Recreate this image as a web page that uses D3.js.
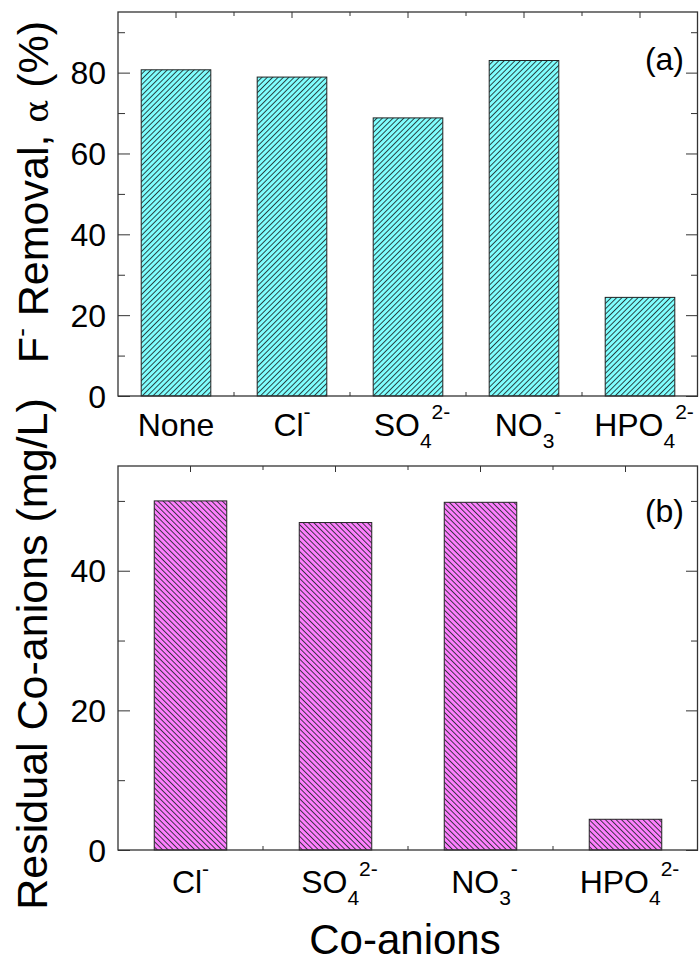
<!DOCTYPE html>
<html>
<head>
<meta charset="utf-8">
<script src="https://cdn.jsdelivr.net/npm/d3@7/dist/d3.min.js"></script>
<style>
  html, body { margin: 0; padding: 0; background: #fff; }
  svg { display: block; font-family: Arial, "Liberation Sans", sans-serif; }
</style>
</head>
<body>
<script>
// ---- data ----
const topCategories = ["None", "Cl", "SO4", "NO3", "HPO4"];
const topValues = [80.7, 78.9, 68.8, 83.0, 24.4];
const topYTicks = [0, 20, 40, 60, 80];
const topYMinor = [10, 30, 50, 70, 90];

const bottomCategories = ["Cl", "SO4", "NO3", "HPO4"];
const bottomValues = [50.0, 46.9, 49.8, 4.4];
const bottomYTicks = [0, 20, 40];
const bottomYMinor = [10, 30, 50];

// label parts: base text, subscript, superscript
const labelParts = {
  "None": { base: "None", sub: "", sup: "" },
  "Cl":   { base: "Cl",   sub: "",  sup: "-" },
  "SO4":  { base: "SO",   sub: "4", sup: "2-" },
  "NO3":  { base: "NO",   sub: "3", sup: "-" },
  "HPO4": { base: "HPO",  sub: "4", sup: "2-" }
};

const W = 699, H = 962;
const svg = d3.select("body").append("svg").attr("width", W).attr("height", H);

const defs = svg.append("defs");
function hatch(id, fill, angle) {
  const s = 3.8;
  const p = defs.append("pattern").attr("id", id)
    .attr("patternUnits", "userSpaceOnUse")
    .attr("width", s).attr("height", s)
    .attr("patternTransform", `rotate(${angle})`);
  p.append("rect").attr("width", s).attr("height", s).attr("fill", fill);
  p.append("line").attr("x1", 0.5).attr("y1", -1).attr("x2", 0.5).attr("y2", s + 1)
    .attr("stroke", "#1a2626").attr("stroke-width", 0.85);
}
hatch("hatchCyan", "#80ffff", 45);
hatch("hatchMag", "#ff80ff", -45);

const frameColor = "#333";
const X0 = 118, X1 = 698;

function drawPanel(cfg) {
  const g = svg.append("g");
  const x = d3.scaleBand().domain(cfg.cats).range([X0, X1])
    .paddingInner(cfg.pad).paddingOuter(cfg.pad / 2);
  const y = d3.scaleLinear().domain(cfg.ydom).range([cfg.yBottom, cfg.yTop]);

  // x ticks (bottom + top), centers and boundaries
  const step = x.step();
  const centers = cfg.cats.map(c => x(c) + x.bandwidth() / 2);
  const bounds = cfg.cats.slice(1).map(c => x(c) - (step - x.bandwidth()) / 2);
  [[centers, 6], [bounds, 4]].forEach(([arr, len]) => {
    arr.forEach(px => {
      g.append("line").attr("x1", px).attr("x2", px)
        .attr("y1", cfg.yBottom).attr("y2", cfg.yBottom - len)
        .attr("stroke", frameColor).attr("stroke-width", 1);
      g.append("line").attr("x1", px).attr("x2", px)
        .attr("y1", cfg.yTop).attr("y2", cfg.yTop + len)
        .attr("stroke", frameColor).attr("stroke-width", 1);
    });
  });

  // bars
  g.selectAll("rect.bar").data(cfg.cats).enter().append("rect")
    .attr("class", "bar")
    .attr("x", d => x(d))
    .attr("width", x.bandwidth())
    .attr("y", (d, i) => y(cfg.vals[i]))
    .attr("height", (d, i) => y(0) - y(cfg.vals[i]))
    .attr("fill", `url(#${cfg.pattern})`)
    .attr("stroke", "#222").attr("stroke-width", 1);

  // left / right y axes using d3 axis (inward ticks)
  function yAxis(gen, xpos, vals, size) {
    const a = g.append("g").attr("transform", `translate(${xpos},0)`)
      .call(gen(y).tickValues(vals).tickSize(size).tickFormat(""));
    a.select(".domain").remove();
    a.selectAll("line").attr("stroke", frameColor).attr("stroke-width", 1);
  }
  yAxis(d3.axisRight, X0, cfg.yticks, 12);
  yAxis(d3.axisRight, X0, cfg.yminor, 7);
  yAxis(d3.axisLeft, X1, cfg.yticks, 12);
  yAxis(d3.axisLeft, X1, cfg.yminor, 7);

  // y tick labels
  g.selectAll("text.ytl").data(cfg.yticks).enter().append("text")
    .attr("class", "ytl")
    .attr("x", 106).attr("y", d => y(d) + 11.5)
    .attr("text-anchor", "end").attr("font-size", 32).attr("fill", "#000")
    .text(d => d);

  // frame
  g.append("rect").attr("x", X0).attr("y", cfg.yTop)
    .attr("width", X1 - X0 - 0.5).attr("height", cfg.yBottom - cfg.yTop)
    .attr("fill", "none").attr("stroke", frameColor).attr("stroke-width", 1.3);

  // category labels
  cfg.cats.forEach(c => {
    const p = labelParts[c];
    const t = g.append("text")
      .attr("x", x(c) + x.bandwidth() / 2 + (p.sub ? 4 : 0))
      .attr("y", cfg.labelY)
      .attr("text-anchor", "middle").attr("font-size", 32).attr("fill", "#000");
    t.append("tspan").text(p.base);
    if (p.sub) t.append("tspan").attr("font-size", 21).attr("dy", 12).text(p.sub);
    if (p.sup) t.append("tspan").attr("font-size", 21).attr("dy", p.sub ? -29 : -17).text(p.sup);
  });

  // panel label
  g.append("text").attr("x", 684).attr("y", cfg.panelY)
    .attr("text-anchor", "end").attr("font-size", 32).attr("fill", "#000")
    .text(cfg.panelLabel);

  return { x, y, g };
}

drawPanel({
  cats: topCategories, vals: topValues, pad: 0.4,
  ydom: [0, 95], yBottom: 396, yTop: 12,
  yticks: topYTicks, yminor: topYMinor,
  pattern: "hatchCyan", labelY: 436, panelLabel: "(a)", panelY: 70
});

drawPanel({
  cats: bottomCategories, vals: bottomValues, pad: 0.5,
  ydom: [0, 55], yBottom: 850, yTop: 466,
  yticks: bottomYTicks, yminor: bottomYMinor,
  pattern: "hatchMag", labelY: 893, panelLabel: "(b)", panelY: 522
});

// y axis titles
const t1 = svg.append("text")
  .attr("transform", "translate(48,192) rotate(-90)")
  .attr("text-anchor", "middle").attr("font-size", 43).attr("fill", "#000");
t1.append("tspan").text("F");
t1.append("tspan").attr("font-size", 26).attr("dy", -18).text("-");
t1.append("tspan").attr("dy", 18).text(" Removal, ");
t1.append("tspan").attr("font-family", "'DejaVu Serif', serif").attr("font-size", 34).text("α");
t1.append("tspan").text(" (%)");

svg.append("text")
  .attr("transform", "translate(47,654) rotate(-90)")
  .attr("text-anchor", "middle").attr("font-size", 43).attr("fill", "#000")
  .text("Residual Co-anions (mg/L)");

// x axis title
svg.append("text").attr("x", 405).attr("y", 954)
  .attr("text-anchor", "middle").attr("font-size", 42).attr("fill", "#000")
  .text("Co-anions");
</script>
</body>
</html>
